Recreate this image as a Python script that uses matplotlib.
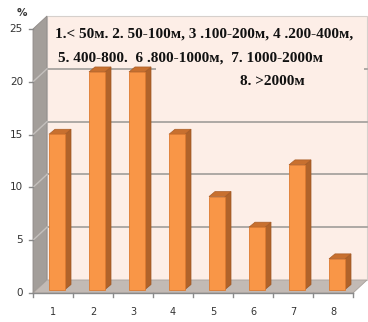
import matplotlib
matplotlib.use("Agg")
import matplotlib.pyplot as plt
import matplotlib.transforms as mtransforms
from matplotlib.patches import Polygon, Rectangle
import numpy as np

# Share of objects by distance class, percent
categories = ["1", "2", "3", "4", "5", "6", "7", "8"]
shares = [14.7, 20.6, 20.6, 14.7, 8.8, 5.9, 11.8, 2.9]
y_ticks = [0, 5, 10, 15, 20, 25]
legend_lines = [
    "1.< 50м. 2. 50-100м, 3 .100-200м, 4 .200-400м,",
    "5. 400-800.  6 .800-1000м,  7. 1000-2000м",
    "8. >2000м",
]

W, H, DPI = 368, 322, 100
fig = plt.figure(figsize=(W / DPI, H / DPI), dpi=DPI)
fig.patch.set_facecolor("white")

# front plane of the 3-D box, in pixels from the top-left corner
left_px, right_px, zero_px, top_px = 33, 353, 293, 29
ax = fig.add_axes([left_px / W, (H - zero_px) / H,
                   (right_px - left_px) / W, (zero_px - top_px) / H])
ax.set_xlim(0.5, len(categories) + 0.5)
ax.set_ylim(0, 25)
ax.axis("off")

# depth offsets (dots): back wall, bar front face, bar back face
WALL = (14, 13)
BAR_F = (4, 3.5)
BAR_B = (10, 8.5)
bar_w = 0.4

ident = mtransforms.IdentityTransform()


def pt(x, y, off=(0, 0)):
    p = ax.transData.transform((x, y))
    return (p[0] + off[0], p[1] + off[1])


def poly(verts, **kw):
    p = Polygon(verts, closed=True, transform=ident, clip_on=False, **kw)
    fig.add_artist(p)
    return p


x0, x1 = 0.5, len(categories) + 0.5

# back wall
poly([pt(x0, 0, WALL), pt(x1, 0, WALL), pt(x1, 25, WALL), pt(x0, 25, WALL)],
     facecolor="#FDEEE7", edgecolor="#D6D0CC", lw=0.8, zorder=1)
# left wall
poly([pt(x0, 0), pt(x0, 0, WALL), pt(x0, 25, WALL), pt(x0, 25)],
     facecolor="#A39E9A", edgecolor="#8F8A87", lw=0.6, zorder=1)
# floor
poly([pt(x0, 0), pt(x1, 0), pt(x1, 0, WALL), pt(x0, 0, WALL)],
     facecolor="#C2BAB5", edgecolor="#A8A19C", lw=0.6, zorder=1)

# gridlines on the back wall and across the left wall
for v in y_ticks[1:-1]:
    a, b = pt(x0, v, WALL), pt(x1, v, WALL)
    fig.add_artist(plt.Line2D([a[0], b[0]], [a[1], b[1]], transform=ident,
                              color="#A7A3A0", lw=1.3, zorder=2))
    c = pt(x0, v)
    fig.add_artist(plt.Line2D([c[0], a[0]], [c[1], a[1]], transform=ident,
                              color="#C4C0BD", lw=1.0, zorder=2))

# front axis line with category ticks
a, b = pt(x0, 0), pt(x1, 0)
fig.add_artist(plt.Line2D([a[0], b[0]], [a[1], b[1]], transform=ident,
                          color="#8A8A8A", lw=1.0, zorder=3))
for k in range(len(categories) + 1):
    c = pt(x0 + k, 0)
    fig.add_artist(plt.Line2D([c[0], c[0]], [c[1], c[1] - 4], transform=ident,
                              color="#8A8A8A", lw=1.0, zorder=3))

# value axis ticks and labels
for v in y_ticks:
    c = pt(x0, v)
    fig.add_artist(plt.Line2D([c[0] - 4, c[0]], [c[1], c[1]], transform=ident,
                              color="#8A8A8A", lw=1.0, zorder=3))
    ax.annotate(str(v), xy=(x0, v), xytext=(-10, 0), textcoords="offset pixels",
                ha="right", va="center", fontsize=7.5, color="#333333",
                annotation_clip=False)
ax.annotate("%", xy=(x0, 25), xytext=(-11, 16), textcoords="offset pixels",
            ha="center", va="center", fontsize=7.5, color="#333333",
            fontweight="bold", annotation_clip=False)

# category labels
for i, lab in enumerate(categories):
    ax.annotate(lab, xy=(i + 1, 0), xytext=(0, -19), textcoords="offset pixels",
                ha="center", va="center", fontsize=7, color="#333333",
                annotation_clip=False)

# 3-D columns: side face, top face, front face
for i, v in enumerate(shares):
    xc = i + 1
    l, r = xc - bar_w / 2, xc + bar_w / 2
    poly([pt(r, 0, BAR_F), pt(r, 0, BAR_B), pt(r, v, BAR_B), pt(r, v, BAR_F)],
         facecolor="#B0632A", edgecolor="#9C5523", lw=0.5, zorder=4)
    poly([pt(l, v, BAR_F), pt(r, v, BAR_F), pt(r, v, BAR_B), pt(l, v, BAR_B)],
         facecolor="#C8702F", edgecolor="#A95D27", lw=0.5, zorder=4)
    poly([pt(l, 0, BAR_F), pt(r, 0, BAR_F), pt(r, v, BAR_F), pt(l, v, BAR_F)],
         facecolor="#F99647", edgecolor="#DD7A30", lw=0.6, zorder=5)

# legend text box
fig.add_artist(Rectangle((156 / W, (H - 92) / H), 208 / W, 29 / H,
                         transform=fig.transFigure, facecolor="#FDEEE7",
                         edgecolor="none", zorder=6))
text_pos = [(55, 38), (58, 62), (240, 85)]
for (px, py), line in zip(text_pos, legend_lines):
    fig.text(px / W, (H - py) / H, line, ha="left", va="baseline",
             fontsize=11, fontweight="bold", family="Liberation Serif",
             color="#111111", zorder=7)

fig.savefig("out.png", dpi=DPI)
